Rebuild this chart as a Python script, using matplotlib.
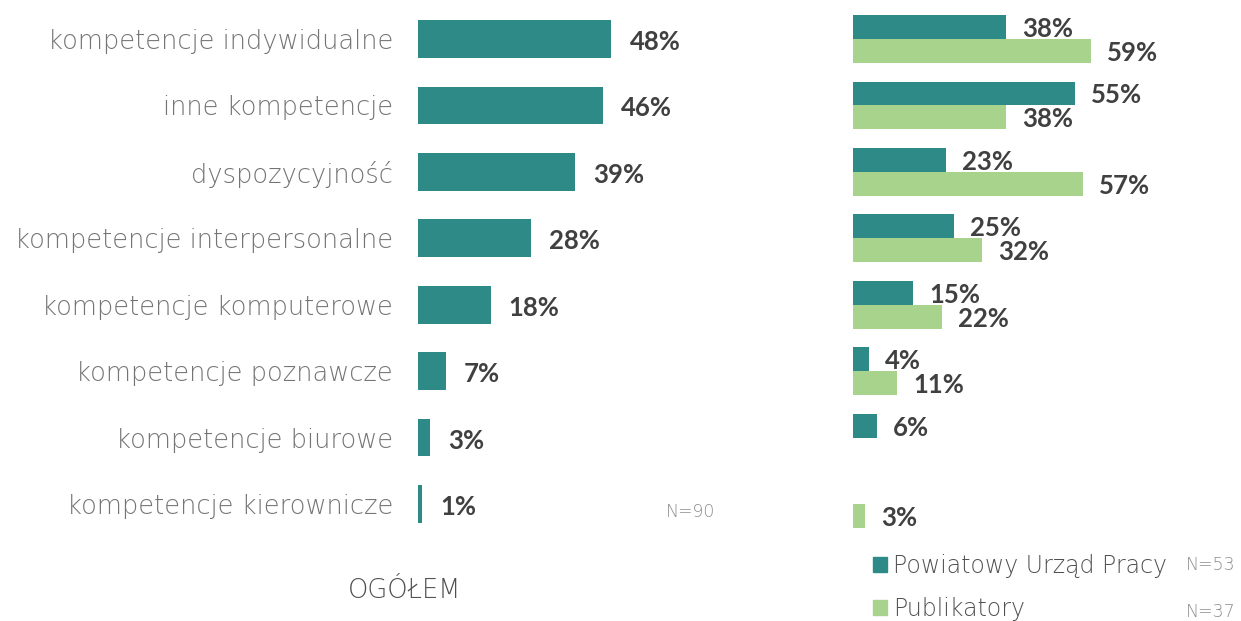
import numpy as np
import matplotlib.pyplot as plt
from matplotlib.patches import Patch

# data
categories = ['kompetencje indywidualne', 'inne kompetencje', 'dyspozycyjność',
              'kompetencje interpersonalne', 'kompetencje komputerowe',
              'kompetencje poznawcze', 'kompetencje biurowe', 'kompetencje kierownicze']
total = [48, 46, 39, 28, 18, 7, 3, 1]
pup = [38, 55, 23, 25, 15, 4, 6, 0]
publ = [59, 38, 57, 32, 22, 11, 0, 3]

TEAL = '#2E8A87'
GREEN = '#A8D38D'
LABEL_GREY = '#747474'
VALUE_DARK = '#404040'
LABEL_FONT = 'DejaVu Sans'

W, H = 1241, 621
fig = plt.figure(figsize=(W / 100, H / 100), dpi=100)

def px_axes(x0, y_top, width, y_bottom):
    return fig.add_axes([x0 / W, 1 - y_bottom / H, width / W, (y_bottom - y_top) / H])

PX_PER_PCT = 4.03
y = np.arange(len(categories))

# left panel: overall
axl = px_axes(418, 5.8, 300, 537.2)
axl.barh(y, total, height=0.57, color=TEAL)
axl.set_xlim(0, 300 / PX_PER_PCT)
axl.set_ylim(7.5, -0.5)
axl.set_yticks(y)
axl.set_yticklabels(categories, fontsize=18.5, color=LABEL_GREY, family=LABEL_FONT,
                    fontweight='light')
axl.tick_params(axis='y', length=0, pad=18)
axl.set_xticks([])
for s in axl.spines.values():
    s.set_visible(False)
for yi, v in zip(y, total):
    axl.annotate(f'{v}%', (v, yi), xytext=(18, -3), textcoords='offset pixels',
                 va='center', ha='left', fontsize=18.5, fontweight='bold',
                 color=VALUE_DARK, family='Lato')

# right panel: by group
axr = px_axes(853, 5.8, 380, 537.2)
off = 0.18
bh = 0.36
for vals, sgn, col in [(pup, -1, TEAL), (publ, 1, GREEN)]:
    for yi, v in zip(y, vals):
        if v == 0:
            continue
        axr.barh(yi + sgn * off, v, height=bh, color=col)
        axr.annotate(f'{v}%', (v, yi + sgn * off), xytext=(16, -2), textcoords='offset pixels',
                     va='center', ha='left', fontsize=18.5, fontweight='bold',
                     color=VALUE_DARK, family='Lato')
axr.set_xlim(0, 380 / PX_PER_PCT)
axr.set_ylim(7.5, -0.5)
axr.axis('off')

# legend
handles = [Patch(color=TEAL), Patch(color=GREEN)]
fig.legend(handles, ['Powiatowy Urząd Pracy', 'Publikatory'],
           loc='center left', bbox_to_anchor=(873 / W, 1 - 587.5 / H), frameon=False,
           borderpad=0, borderaxespad=0,
           handlelength=0.6, handleheight=0.6, handletextpad=0.25,
           labelspacing=0.8, prop={'family': LABEL_FONT, 'size': 17, 'weight': 'light'},
           labelcolor='#505050')

fig.text(405 / W, 1 - 590 / H, 'OGÓŁEM', ha='center', va='center',
         fontsize=18.5, color='#505050', family=LABEL_FONT, fontweight='light')
fig.text(691 / W, 1 - 512 / H, 'N=90', ha='center', va='center',
         fontsize=12.5, color='#8C8C8C', family=LABEL_FONT, fontweight='light')
fig.text(1211 / W, 1 - 565 / H, 'N=53', ha='center', va='center',
         fontsize=12.5, color='#8C8C8C', family=LABEL_FONT, fontweight='light')
fig.text(1211 / W, 1 - 612 / H, 'N=37', ha='center', va='center',
         fontsize=12.5, color='#8C8C8C', family=LABEL_FONT, fontweight='light')

fig.savefig('out.png', dpi=100)
